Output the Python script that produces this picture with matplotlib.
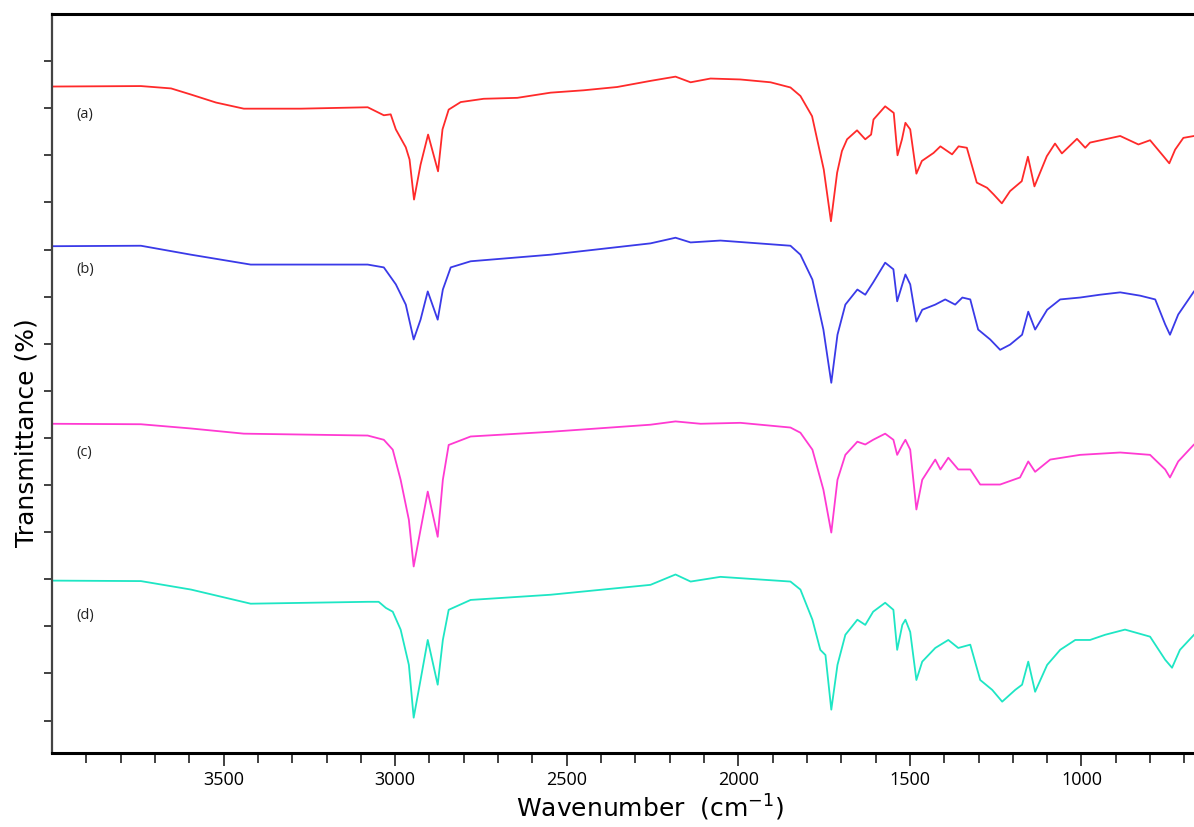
import matplotlib.pyplot as plt
import numpy as np

# FTIR spectra, wavenumber (cm-1) vs transmittance (offset traces)
wn_a = [4000, 3741, 3653, 3595, 3522, 3441, 3275, 3080, 3033, 3013, 2998, 2969, 2958, 2945,
        2926, 2904, 2875, 2862, 2844, 2809, 2742, 2644, 2547, 2451, 2353, 2256, 2183, 2139,
        2081, 1994, 1906, 1848, 1819, 1785, 1751, 1730, 1712, 1698, 1683, 1654, 1630, 1613,
        1606, 1572, 1547, 1536, 1523, 1513, 1499, 1481, 1465, 1431, 1411, 1377, 1358, 1334,
        1305, 1275, 1256, 1232, 1208, 1174, 1156, 1137, 1101, 1077, 1057, 1013, 989, 975,
        887, 834, 800, 761, 744, 727, 703, 672, 660]
t_a = [134.6, 134.7, 134.2, 132.9, 131.2, 129.9, 129.9, 130.2, 128.5, 128.7, 125.5, 121.7, 119.1, 110.6,
       118.0, 124.4, 116.6, 125.5, 129.7, 131.3, 132.0, 132.2, 133.3, 133.8, 134.5, 135.8, 136.7, 135.5,
       136.3, 136.1, 135.5, 134.4, 132.6, 128.3, 117.0, 106.0, 116.3, 120.9, 123.4, 125.3, 123.4, 124.4,
       127.6, 130.4, 129.0, 120.0, 123.4, 126.9, 125.5, 116.1, 118.8, 120.5, 121.9, 120.2, 121.9, 121.6,
       114.2, 113.1, 111.7, 109.8, 112.4, 114.5, 119.7, 113.4, 119.8, 122.5, 120.4, 123.5, 121.6, 122.7,
       124.1, 122.3, 123.2, 119.8, 118.3, 121.2, 123.7, 124.1, 124.3]

wn_b = [4000, 3741, 3595, 3421, 3080, 3033, 2998, 2969, 2946, 2926, 2905, 2876, 2861, 2838,
        2780, 2547, 2256, 2183, 2139, 2052, 1848, 1819, 1784, 1752, 1729, 1711, 1688, 1653,
        1630, 1607, 1572, 1548, 1537, 1522, 1513, 1499, 1481, 1464, 1426, 1397, 1368, 1347,
        1324, 1301, 1266, 1237, 1208, 1173, 1155, 1135, 1100, 1062, 1004, 946, 887, 829,
        785, 756, 742, 718, 672, 660]
t_b = [100.7, 100.8, 98.9, 96.8, 96.8, 96.2, 92.6, 88.3, 80.9, 85.1, 91.1, 85.1, 91.5, 96.2,
       97.5, 98.9, 101.3, 102.5, 101.5, 101.9, 100.8, 98.9, 93.6, 83.0, 71.7, 81.9, 88.3, 91.5,
       90.4, 93.0, 97.2, 95.8, 89.0, 92.6, 94.7, 92.6, 84.7, 87.2, 88.3, 89.4, 88.3, 89.8,
       89.4, 83.0, 80.9, 78.7, 79.8, 81.9, 86.8, 83.0, 87.2, 89.4, 89.8, 90.4, 90.9, 90.2,
       89.4, 84.1, 81.9, 86.2, 91.1, 92.0]

wn_c = [4000, 3741, 3595, 3441, 3080, 3033, 3007, 2984, 2960, 2946, 2926, 2905, 2876, 2861,
        2844, 2780, 2547, 2256, 2183, 2110, 1994, 1848, 1819, 1784, 1752, 1729, 1711, 1688,
        1653, 1630, 1607, 1572, 1548, 1537, 1522, 1513, 1499, 1481, 1464, 1426, 1411, 1388,
        1359, 1324, 1295, 1237, 1179, 1155, 1135, 1091, 1004, 887, 800, 756, 742, 718, 672, 660]
t_c = [63.0, 62.9, 62.0, 60.9, 60.5, 59.6, 57.5, 51.1, 42.6, 32.7, 40.5, 48.6, 39.0, 51.1,
       58.5, 60.3, 61.3, 62.8, 63.5, 63.0, 63.2, 62.2, 61.1, 57.5, 49.0, 39.9, 51.1, 56.4,
       59.2, 58.6, 59.6, 60.9, 59.6, 56.4, 58.5, 59.6, 57.5, 44.8, 51.1, 55.4, 53.3, 55.8,
       53.3, 53.3, 50.1, 50.1, 51.6, 55.0, 52.8, 55.4, 56.4, 56.9, 56.4, 53.3, 51.6, 55.0, 58.6, 59.0]

wn_d = [4000, 3741, 3595, 3421, 3080, 3048, 3027, 3007, 2984, 2960, 2946, 2926, 2905, 2876,
        2861, 2844, 2780, 2547, 2256, 2183, 2139, 2052, 1848, 1819, 1784, 1761, 1746, 1729,
        1711, 1688, 1653, 1630, 1607, 1572, 1548, 1537, 1522, 1513, 1499, 1481, 1464, 1426,
        1388, 1359, 1324, 1295, 1260, 1231, 1193, 1173, 1155, 1135, 1100, 1062, 1018, 975,
        931, 873, 800, 756, 736, 713, 672, 660]
t_d = [29.7, 29.6, 27.8, 24.8, 25.2, 25.2, 23.9, 23.1, 19.3, 11.8, 0.6, 8.6, 17.1, 7.6,
       17.1, 23.5, 25.6, 26.7, 28.8, 31.0, 29.5, 30.5, 29.5, 27.8, 21.4, 15.0, 13.9, 2.3,
       11.8, 18.2, 21.4, 20.3, 23.1, 25.0, 23.5, 15.0, 20.3, 21.4, 18.8, 8.6, 12.5, 15.4,
       17.1, 15.4, 16.1, 8.6, 6.5, 4.0, 6.5, 7.6, 12.5, 6.1, 11.8, 15.0, 17.1, 17.1,
       18.2, 19.3, 17.8, 12.9, 11.2, 15.0, 18.2, 19.0]

labels = ['(a)', '(b)', '(c)', '(d)']
label_y = [128.7, 95.8, 56.9, 22.2]
colors = ['#ff2a2a', '#3a3ae8', '#ff3ad2', '#1ee6c4']

fig = plt.figure(figsize=(11.94, 8.27), dpi=100)
ax = fig.add_axes([52/1194, 74/827, 1 - 52/1194, 739/827])

for wn, t, c in zip([wn_a, wn_b, wn_c, wn_d], [t_a, t_b, t_c, t_d], colors):
    ax.plot(wn, t, color=c, lw=1.3)

for lab, y in zip(labels, label_y):
    ax.text(3930, y, lab, fontsize=10.5, family='Open Sans', color='#222222', va='center')

ax.set_xlim(4000, 672)
ax.set_ylim(-6.9, 150)

ax.set_xticks(np.arange(1000, 3501, 500))
ax.set_xticks(np.arange(700, 4000, 100), minor=True)
ax.set_yticks(np.arange(0, 141, 10))
ax.set_yticklabels([])
ax.tick_params(axis='x', which='major', length=9, width=1.3, color='#333333',
               labelsize=13, pad=4)
ax.tick_params(axis='x', which='minor', length=7, width=1.3, color='#333333')
ax.tick_params(axis='y', length=6, width=1.3, color='#333333')
for lab in ax.get_xticklabels():
    lab.set_family('Open Sans')

ax.spines['right'].set_visible(False)
ax.spines['top'].set_linewidth(2.2)
ax.spines['bottom'].set_linewidth(2.2)
ax.spines['left'].set_linewidth(1.6)
ax.spines['left'].set_color('#444444')

fig.text(650/1194, 1 - 808/827, 'Wavenumber  (cm$^{-1}$)', ha='center', va='center',
         fontsize=18, family='DejaVu Sans')
fig.text(27/1194, 1 - 433/827, 'Transmittance (%)', ha='center', va='center',
         rotation=90, fontsize=18, family='DejaVu Sans')

fig.savefig('out.png', dpi=100)
